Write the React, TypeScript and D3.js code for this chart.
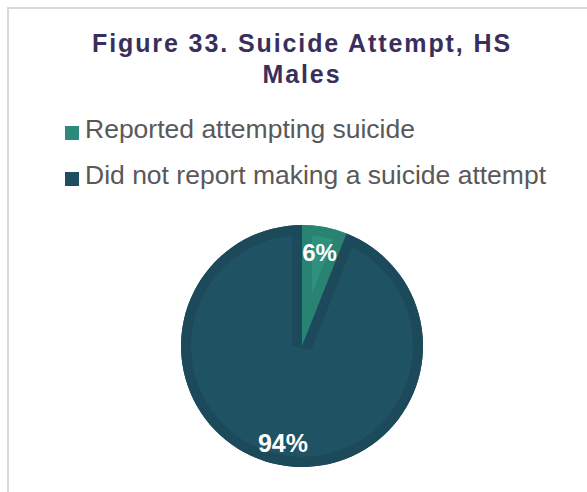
import React from "react";
import * as d3 from "d3";

const categories = ["Reported attempting suicide", "Did not report making a suicide attempt"];
const values = [6, 94];
const labels = ["6%", "94%"];
const fills = ["#2e917f", "#1f5263"];
const borders = ["#298373", "#1c4a5a"];
const legendColors = ["#2b8a7a", "#1f4f5f"];
const titleLines = ["Figure 33. Suicide Attempt, HS", "Males"];

export default function App() {
  const W = 587, H = 492;
  const cx = 302, cy = 346, R = 121;
  const pie = d3.pie<number>().sort(null).value((d) => d)(values);
  const arc = d3.arc<d3.PieArcDatum<number>>().innerRadius(0).outerRadius(R);
  const font = "Arial, 'Liberation Sans', sans-serif";
  const labelPos = [
    { x: 319.5, y: 261, s: 24 },
    { x: 283, y: 452, s: 25 },
  ];
  return (
    <svg width={W} height={H} style={{ position: "absolute", left: 0, top: 0, background: "#fff" }}>
      <rect x={8} y={8} width={W + 10} height={H + 10} fill="#fff" stroke="#d9d9d9" strokeWidth={2} />
      {titleLines.map((t, i) => (
        <text key={i} x={302} y={52 + i * 31} textAnchor="middle" fontFamily={font} fontWeight="bold" fontSize={25} letterSpacing={1.9} fill="#3a2f5b">
          {t}
        </text>
      ))}
      {categories.map((c, i) => (
        <g key={c}>
          <rect x={65} y={126 + i * 46} width={14} height={14} fill={legendColors[i]} />
          <text x={85} y={138 + i * 46} fontFamily={font} fontSize={26.5} fill="#595959">
            {c}
          </text>
        </g>
      ))}
      <g transform={`translate(${cx},${cy})`}>
        <defs>
          {pie.map((p, i) => (
            <clipPath key={i} id={`clip${i}`}>
              <path d={arc(p) || ""} />
            </clipPath>
          ))}
        </defs>
        {pie.map((p, i) => (
          <g key={i}>
            <path d={arc(p) || ""} fill={fills[i]} />
            <path d={arc(p) || ""} fill="none" stroke={borders[i]} strokeWidth={20} clipPath={`url(#clip${i})`} />
          </g>
        ))}
      </g>
      {pie.map((p, i) => (
        <text key={i} x={labelPos[i].x} y={labelPos[i].y} textAnchor="middle" fontFamily={font} fontWeight="bold" fontSize={labelPos[i].s} fill="#fff">
          {labels[i]}
        </text>
      ))}
    </svg>
  );
}
